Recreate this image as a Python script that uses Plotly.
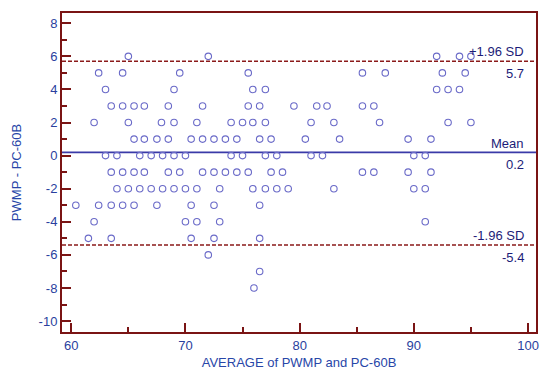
import plotly.graph_objects as go

# Bland-Altman data: average (x) and difference (y)
diff_levels = [6, 5, 4, 3, 2, 1, 0, -1, -2, -3, -4, -5, -6, -7, -8]
avg_by_level = [
    [65.0, 72.0, 92.0, 94.0, 95.0],
    [62.4, 64.5, 69.5, 75.5, 85.5, 87.5, 92.5, 94.5],
    [63.0, 69.0, 75.9, 77.0, 92.0, 93.0, 94.0],
    [63.5, 64.5, 65.5, 66.4, 68.5, 71.5, 75.5, 76.5, 79.5, 81.5, 82.4, 85.5, 86.5],
    [62.0, 65.0, 67.9, 69.0, 71.0, 74.0, 75.0, 75.9, 77.0, 81.0, 83.0, 87.0, 93.0, 95.0],
    [65.5, 66.4, 67.5, 68.5, 70.5, 71.5, 72.5, 73.5, 74.5, 76.5, 77.5, 80.5, 83.5, 89.5, 91.5],
    [63.0, 64.0, 66.0, 67.0, 68.0, 69.0, 70.0, 74.0, 75.0, 77.0, 78.0, 81.0, 82.0, 90.0, 91.0],
    [63.5, 64.5, 65.5, 66.4, 68.5, 69.5, 71.5, 72.5, 73.5, 74.5, 75.5, 77.5, 78.5, 85.5, 86.5, 89.5, 91.5],
    [64.0, 65.0, 66.0, 67.0, 68.0, 69.0, 70.0, 71.0, 73.0, 75.9, 77.0, 78.0, 79.0, 83.0, 90.0, 91.0],
    [60.4, 62.4, 63.5, 64.5, 65.5, 67.5, 70.5, 72.5, 76.5],
    [62.0, 70.0, 71.0, 73.0, 91.0],
    [61.5, 63.5, 70.5, 72.5, 76.5],
    [72.0],
    [76.5],
    [76.0],
]

mean_diff = 0.2
upper_loa = 5.7
lower_loa = -5.4
x_ticks = [60, 70, 80, 90, 100]
y_ticks = [8, 6, 4, 2, 0, -2, -4, -6, -8, -10]

xs, ys = [], []
for lvl, avgs in zip(diff_levels, avg_by_level):
    for a in avgs:
        xs.append(a)
        ys.append(lvl)

AX = "#7a1414"
TICKC = "#2a3f9e"
NAVY = "#1c1c78"
FONT = "Liberation Sans, Arial, sans-serif"

fig = go.Figure()
x0, x1 = 59.19, 100.7

fig.add_trace(go.Scatter(x=[x0, x1], y=[upper_loa, upper_loa], mode="lines",
                         line=dict(color="#8b1a1a", width=1.6, dash="4px,2px"),
                         hoverinfo="skip", showlegend=False))
fig.add_trace(go.Scatter(x=[x0, x1], y=[lower_loa, lower_loa], mode="lines",
                         line=dict(color="#8b1a1a", width=1.6, dash="4px,2px"),
                         hoverinfo="skip", showlegend=False))
fig.add_trace(go.Scatter(x=[x0, x1], y=[mean_diff, mean_diff], mode="lines",
                         line=dict(color="#3a3aa8", width=1.8),
                         hoverinfo="skip", showlegend=False))
fig.add_trace(go.Scatter(x=xs, y=ys, mode="markers",
                         marker=dict(symbol="circle-open", size=6.5,
                                     color="#6a6ac8", line=dict(width=1.1, color="#6a6ac8")),
                         showlegend=False))

ann = []
xa = 99.8
for txt, yv, shift in [("+1.96 SD", upper_loa, 10), ("%.1f" % upper_loa, upper_loa, -12.5),
                       ("Mean", mean_diff, 9), ("%.1f" % mean_diff, mean_diff, -12.5),
                       ("-1.96 SD", lower_loa, 9), ("%.1f" % lower_loa, lower_loa, -13)]:
    ann.append(dict(x=xa, y=yv, xref="x", yref="y", text=txt, showarrow=False,
                    xanchor="right", yanchor="middle", yshift=shift,
                    font=dict(family=FONT, size=13, color=NAVY)))

fig.update_layout(
    width=543, height=372,
    margin=dict(l=62, r=4, t=13, b=40),
    paper_bgcolor="white", plot_bgcolor="white",
    font=dict(family=FONT, size=13, color=TICKC),
    annotations=ann,
)
fig.update_xaxes(
    range=[x0, x1], tickvals=x_ticks, ticktext=[str(v) for v in x_ticks],
    ticks="inside", ticklen=9, tickwidth=2, tickcolor=AX,
    minor=dict(dtick=5, tick0=60, ticks="inside", ticklen=5, tickwidth=1.5, tickcolor=AX, showgrid=False),
    showline=True, linecolor=AX, linewidth=2, mirror=True,
    showgrid=False, zeroline=False,
    tickfont=dict(family=FONT, size=13, color=TICKC),
    title=dict(text="AVERAGE of PWMP and PC-60B", font=dict(family=FONT, size=13, color="#2846a8"), standoff=6),
)
fig.update_yaxes(
    range=[-10.66, 8.62], tickvals=y_ticks, ticktext=[str(v) for v in y_ticks],
    ticks="inside", ticklen=9, tickwidth=2, tickcolor=AX,
    minor=dict(dtick=1, tick0=0, ticks="inside", ticklen=5, tickwidth=1.5, tickcolor=AX, showgrid=False),
    showline=True, linecolor=AX, linewidth=2, mirror=True,
    showgrid=False, zeroline=False,
    tickfont=dict(family=FONT, size=13, color=TICKC),
    title=dict(text="PWMP - PC-60B", font=dict(family=FONT, size=13, color="#2846a8"), standoff=14),
)

fig.write_html("out.html")
